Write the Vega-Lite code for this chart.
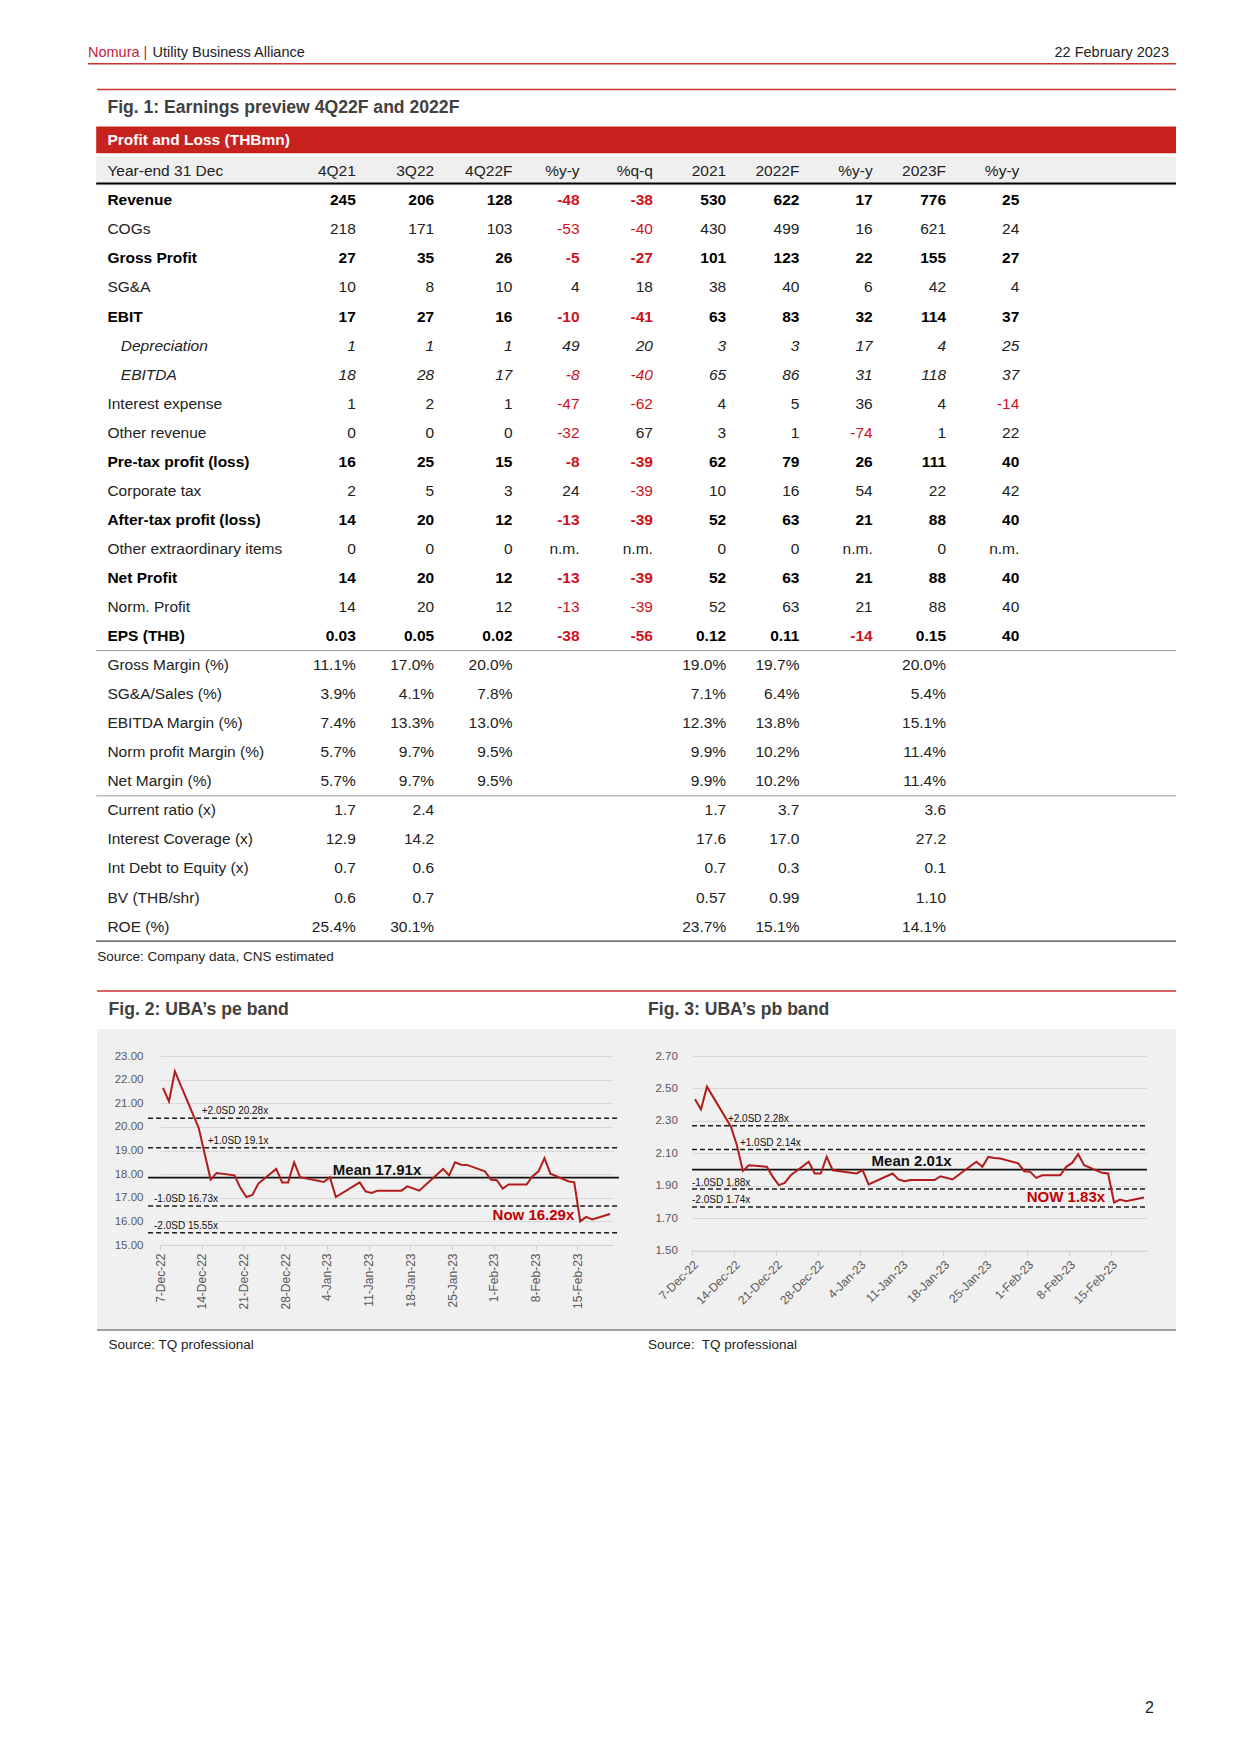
{
  "$schema": "https://vega.github.io/schema/vega-lite/v6.json",
  "padding": 0,
  "background": "#ffffff",
  "spacing": 0,
  "bounds": "flush",
  "config": {"view": {"stroke": null}, "font": "Liberation Sans"},
  "datasets": {
    "pl": [
      {"item":"Year-end 31 Dec","a":"4Q21","b":"3Q22","c":"4Q22F","d":"%y-y","e":"%q-q","f":"2021","g":"2022F","h":"%y-y","i":"2023F","j":"%y-y"},
      {"item":"Revenue","a":"245","b":"206","c":"128","d":"-48","e":"-38","f":"530","g":"622","h":"17","i":"776","j":"25"},
      {"item":"COGs","a":"218","b":"171","c":"103","d":"-53","e":"-40","f":"430","g":"499","h":"16","i":"621","j":"24"},
      {"item":"Gross Profit","a":"27","b":"35","c":"26","d":"-5","e":"-27","f":"101","g":"123","h":"22","i":"155","j":"27"},
      {"item":"SG&A","a":"10","b":"8","c":"10","d":"4","e":"18","f":"38","g":"40","h":"6","i":"42","j":"4"},
      {"item":"EBIT","a":"17","b":"27","c":"16","d":"-10","e":"-41","f":"63","g":"83","h":"32","i":"114","j":"37"},
      {"item":"Depreciation","a":"1","b":"1","c":"1","d":"49","e":"20","f":"3","g":"3","h":"17","i":"4","j":"25"},
      {"item":"EBITDA","a":"18","b":"28","c":"17","d":"-8","e":"-40","f":"65","g":"86","h":"31","i":"118","j":"37"},
      {"item":"Interest expense","a":"1","b":"2","c":"1","d":"-47","e":"-62","f":"4","g":"5","h":"36","i":"4","j":"-14"},
      {"item":"Other revenue","a":"0","b":"0","c":"0","d":"-32","e":"67","f":"3","g":"1","h":"-74","i":"1","j":"22"},
      {"item":"Pre-tax profit (loss)","a":"16","b":"25","c":"15","d":"-8","e":"-39","f":"62","g":"79","h":"26","i":"111","j":"40"},
      {"item":"Corporate tax","a":"2","b":"5","c":"3","d":"24","e":"-39","f":"10","g":"16","h":"54","i":"22","j":"42"},
      {"item":"After-tax profit (loss)","a":"14","b":"20","c":"12","d":"-13","e":"-39","f":"52","g":"63","h":"21","i":"88","j":"40"},
      {"item":"Other extraordinary items","a":"0","b":"0","c":"0","d":"n.m.","e":"n.m.","f":"0","g":"0","h":"n.m.","i":"0","j":"n.m."},
      {"item":"Net Profit","a":"14","b":"20","c":"12","d":"-13","e":"-39","f":"52","g":"63","h":"21","i":"88","j":"40"},
      {"item":"Norm. Profit","a":"14","b":"20","c":"12","d":"-13","e":"-39","f":"52","g":"63","h":"21","i":"88","j":"40"},
      {"item":"EPS (THB)","a":"0.03","b":"0.05","c":"0.02","d":"-38","e":"-56","f":"0.12","g":"0.11","h":"-14","i":"0.15","j":"40"},
      {"item":"Gross Margin (%)","a":"11.1%","b":"17.0%","c":"20.0%","f":"19.0%","g":"19.7%","i":"20.0%"},
      {"item":"SG&A/Sales (%)","a":"3.9%","b":"4.1%","c":"7.8%","f":"7.1%","g":"6.4%","i":"5.4%"},
      {"item":"EBITDA Margin (%)","a":"7.4%","b":"13.3%","c":"13.0%","f":"12.3%","g":"13.8%","i":"15.1%"},
      {"item":"Norm profit Margin (%)","a":"5.7%","b":"9.7%","c":"9.5%","f":"9.9%","g":"10.2%","i":"11.4%"},
      {"item":"Net Margin (%)","a":"5.7%","b":"9.7%","c":"9.5%","f":"9.9%","g":"10.2%","i":"11.4%"},
      {"item":"Current ratio (x)","a":"1.7","b":"2.4","f":"1.7","g":"3.7","i":"3.6"},
      {"item":"Interest Coverage (x)","a":"12.9","b":"14.2","f":"17.6","g":"17.0","i":"27.2"},
      {"item":"Int Debt to Equity (x)","a":"0.7","b":"0.6","f":"0.7","g":"0.3","i":"0.1"},
      {"item":"BV (THB/shr)","a":"0.6","b":"0.7","f":"0.57","g":"0.99","i":"1.10"},
      {"item":"ROE (%)","a":"25.4%","b":"30.1%","f":"23.7%","g":"15.1%","i":"14.1%"}
    ],
    "seps": [
      {"item":"Year-end 31 Dec","kind":"head"},
      {"item":"EPS (THB)","kind":"mid"},
      {"item":"Net Margin (%)","kind":"mid"},
      {"item":"ROE (%)","kind":"end"}
    ],
    "pe": [
      {"date":"2022-12-07","v":21.65},{"date":"2022-12-08","v":21.08},{"date":"2022-12-09","v":22.35},
      {"date":"2022-12-13","v":19.95},{"date":"2022-12-14","v":18.85},{"date":"2022-12-15","v":17.77},
      {"date":"2022-12-16","v":18.05},{"date":"2022-12-19","v":17.95},{"date":"2022-12-20","v":17.41},
      {"date":"2022-12-21","v":17.03},{"date":"2022-12-22","v":17.12},{"date":"2022-12-23","v":17.60},
      {"date":"2022-12-26","v":18.22},{"date":"2022-12-27","v":17.65},{"date":"2022-12-28","v":17.65},
      {"date":"2022-12-29","v":18.50},{"date":"2022-12-30","v":17.87},{"date":"2023-01-03","v":17.67},
      {"date":"2023-01-04","v":17.87},{"date":"2023-01-05","v":17.03},{"date":"2023-01-09","v":17.65},
      {"date":"2023-01-10","v":17.27},{"date":"2023-01-11","v":17.20},{"date":"2023-01-12","v":17.30},
      {"date":"2023-01-16","v":17.30},{"date":"2023-01-17","v":17.48},{"date":"2023-01-19","v":17.30},
      {"date":"2023-01-23","v":18.22},{"date":"2023-01-24","v":17.94},{"date":"2023-01-25","v":18.50},
      {"date":"2023-01-26","v":18.40},{"date":"2023-01-27","v":18.39},{"date":"2023-01-30","v":18.12},
      {"date":"2023-01-31","v":17.77},{"date":"2023-02-01","v":17.74},{"date":"2023-02-02","v":17.39},
      {"date":"2023-02-03","v":17.56},{"date":"2023-02-06","v":17.56},{"date":"2023-02-07","v":17.91},
      {"date":"2023-02-08","v":18.12},{"date":"2023-02-09","v":18.68},{"date":"2023-02-10","v":18.02},
      {"date":"2023-02-13","v":17.70},{"date":"2023-02-14","v":17.65},{"date":"2023-02-15","v":16.00},
      {"date":"2023-02-16","v":16.19},{"date":"2023-02-17","v":16.08},{"date":"2023-02-20","v":16.31}
    ],
    "pb": [
      {"date":"2022-12-07","v":2.433},{"date":"2022-12-08","v":2.371},{"date":"2022-12-09","v":2.511},
      {"date":"2022-12-13","v":2.264},{"date":"2022-12-14","v":2.15},{"date":"2022-12-15","v":1.992},
      {"date":"2022-12-16","v":2.027},{"date":"2022-12-19","v":2.017},{"date":"2022-12-20","v":1.955},
      {"date":"2022-12-21","v":1.904},{"date":"2022-12-22","v":1.918},{"date":"2022-12-23","v":1.965},
      {"date":"2022-12-26","v":2.048},{"date":"2022-12-27","v":1.976},{"date":"2022-12-28","v":1.976},
      {"date":"2022-12-29","v":2.078},{"date":"2022-12-30","v":1.996},{"date":"2023-01-03","v":1.976},
      {"date":"2023-01-04","v":1.996},{"date":"2023-01-05","v":1.908},{"date":"2023-01-09","v":1.976},
      {"date":"2023-01-10","v":1.939},{"date":"2023-01-11","v":1.928},{"date":"2023-01-12","v":1.935},
      {"date":"2023-01-16","v":1.935},{"date":"2023-01-17","v":1.959},{"date":"2023-01-19","v":1.939},
      {"date":"2023-01-23","v":2.048},{"date":"2023-01-24","v":2.017},{"date":"2023-01-25","v":2.078},
      {"date":"2023-01-26","v":2.072},{"date":"2023-01-27","v":2.068},{"date":"2023-01-30","v":2.038},
      {"date":"2023-01-31","v":1.990},{"date":"2023-02-01","v":1.986},{"date":"2023-02-02","v":1.949},
      {"date":"2023-02-03","v":1.965},{"date":"2023-02-06","v":1.965},{"date":"2023-02-07","v":2.017},
      {"date":"2023-02-08","v":2.041},{"date":"2023-02-09","v":2.095},{"date":"2023-02-10","v":2.027},
      {"date":"2023-02-13","v":1.980},{"date":"2023-02-14","v":1.976},{"date":"2023-02-15","v":1.797},
      {"date":"2023-02-16","v":1.815},{"date":"2023-02-17","v":1.805},{"date":"2023-02-20","v":1.828}
    ],
    "peBands": [
      {"band":"+2.0SD","v":20.36,"label":"+2.0SD 20.28x","at":"2022-12-14","from":"2022-12-05","to":"2023-02-22"},
      {"band":"+1.0SD","v":19.12,"label":"+1.0SD 19.1x","at":"2022-12-15","from":"2022-12-05","to":"2023-02-22"},
      {"band":"Mean","v":17.85,"label":"Mean 17.91x","at":"2023-01-05","from":"2022-12-05","to":"2023-02-22"},
      {"band":"-1.0SD","v":16.65,"label":"-1.0SD 16.73x","at":"2022-12-06","from":"2022-12-05","to":"2023-02-22"},
      {"band":"-2.0SD","v":15.52,"label":"-2.0SD 15.55x","at":"2022-12-06","from":"2022-12-05","to":"2023-02-22"}
    ],
    "pbBands": [
      {"band":"+2.0SD","v":2.27,"label":"+2.0SD 2.28x","at":"2022-12-13","from":"2022-12-07","to":"2023-02-21"},
      {"band":"+1.0SD","v":2.123,"label":"+1.0SD 2.14x","at":"2022-12-15","from":"2022-12-07","to":"2023-02-21"},
      {"band":"Mean","v":2.0,"label":"Mean 2.01x","at":"2023-01-06","from":"2022-12-07","to":"2023-02-21"},
      {"band":"-1.0SD","v":1.88,"label":"-1.0SD 1.88x","at":"2022-12-07","from":"2022-12-07","to":"2023-02-21"},
      {"band":"-2.0SD","v":1.77,"label":"-2.0SD 1.74x","at":"2022-12-07","from":"2022-12-07","to":"2023-02-21"}
    ],
    "peNow": [{"label":"Now 16.29x","at":"2023-02-14","v":16.29}],
    "pbNow": [{"label":"NOW 1.83x","at":"2023-02-14","v":1.83}]
  },
  "vconcat": [
    {
      "width": 1242,
      "height": 1056,
      "resolve": {"scale": {"x": "independent"}},
      "layer": [
        {"data":{"values":[{"t":"Nomura |"}]},"mark":{"type":"text","align":"left","baseline":"middle","fontSize":14.5,"color":"#c41e3a"},"encoding":{"text":{"field":"t"},"x":{"value":88},"y":{"value":52.6}}},
        {"data":{"values":[{"t":"Utility Business Alliance"}]},"mark":{"type":"text","align":"left","baseline":"middle","fontSize":14.5,"color":"#222222"},"encoding":{"text":{"field":"t"},"x":{"value":152.5},"y":{"value":52.6}}},
        {"data":{"values":[{"t":"22 February 2023"}]},"mark":{"type":"text","align":"right","baseline":"middle","fontSize":14.5,"color":"#222222"},"encoding":{"text":{"field":"t"},"x":{"value":1169},"y":{"value":52.6}}},
        {"data":{"values":[{}]},"mark":{"type":"rule","color":"#c8322f","strokeWidth":1.6},"encoding":{"x":{"value":88},"x2":{"value":1176},"y":{"value":63.8}}},
        {"data":{"values":[{}]},"mark":{"type":"rule","color":"#c8322f","strokeWidth":1.6},"encoding":{"x":{"value":97},"x2":{"value":1176},"y":{"value":89.5}}},
        {"data":{"values":[{"t":"Fig. 1: Earnings preview 4Q22F and 2022F"}]},"mark":{"type":"text","align":"left","baseline":"middle","fontSize":17.6,"fontWeight":"bold","color":"#404040"},"encoding":{"text":{"field":"t"},"x":{"value":107.4},"y":{"value":108.2}}},
        {"data":{"values":[{}]},"mark":{"type":"rect","color":"#c8221f"},"encoding":{"x":{"value":96.2},"x2":{"value":1176},"y":{"value":126.4},"y2":{"value":153.3}}},
        {"data":{"values":[{"t":"Profit and Loss (THBmn)"}]},"mark":{"type":"text","align":"left","baseline":"middle","fontSize":15.5,"fontWeight":"bold","color":"#ffffff"},"encoding":{"text":{"field":"t"},"x":{"value":107.4},"y":{"value":139.9}}},
        {"data":{"name":"seps"},"transform":[{"filter":"datum.kind === 'head'"}],"mark":{"type":"rect","color":"#efefef"},
         "encoding":{"x":{"value":96.2},"x2":{"value":1176},
          "y":{"field":"item","type":"nominal","scale":{"type":"band","domain":["Year-end 31 Dec","Revenue","COGs","Gross Profit","SG&A","EBIT","Depreciation","EBITDA","Interest expense","Other revenue","Pre-tax profit (loss)","Corporate tax","After-tax profit (loss)","Other extraordinary items","Net Profit","Norm. Profit","EPS (THB)","Gross Margin (%)","SG&A/Sales (%)","EBITDA Margin (%)","Norm profit Margin (%)","Net Margin (%)","Current ratio (x)","Interest Coverage (x)","Int Debt to Equity (x)","BV (THB/shr)","ROE (%)"],"range":[156.73,941.08],"paddingInner":0,"paddingOuter":0},"axis":null}}},
        {"data":{"name":"seps"},"transform":[{"filter":"datum.kind === 'head'"}],"mark":{"type":"rule","color":"#000000","strokeWidth":2},
         "encoding":{"x":{"value":96.2},"x2":{"value":1176},
          "y":{"field":"item","type":"nominal","bandPosition":0.92,"scale":{"type":"band","domain":["Year-end 31 Dec","Revenue","COGs","Gross Profit","SG&A","EBIT","Depreciation","EBITDA","Interest expense","Other revenue","Pre-tax profit (loss)","Corporate tax","After-tax profit (loss)","Other extraordinary items","Net Profit","Norm. Profit","EPS (THB)","Gross Margin (%)","SG&A/Sales (%)","EBITDA Margin (%)","Norm profit Margin (%)","Net Margin (%)","Current ratio (x)","Interest Coverage (x)","Int Debt to Equity (x)","BV (THB/shr)","ROE (%)"],"range":[156.73,941.08],"paddingInner":0,"paddingOuter":0},"axis":null}}},
        {"data":{"name":"seps"},"transform":[{"filter":"datum.kind === 'mid'"}],"mark":{"type":"rule","color":"#9a9a9a","strokeWidth":1},
         "encoding":{"x":{"value":96.2},"x2":{"value":1176},
          "y":{"field":"item","type":"nominal","bandPosition":1,"scale":{"type":"band","domain":["Year-end 31 Dec","Revenue","COGs","Gross Profit","SG&A","EBIT","Depreciation","EBITDA","Interest expense","Other revenue","Pre-tax profit (loss)","Corporate tax","After-tax profit (loss)","Other extraordinary items","Net Profit","Norm. Profit","EPS (THB)","Gross Margin (%)","SG&A/Sales (%)","EBITDA Margin (%)","Norm profit Margin (%)","Net Margin (%)","Current ratio (x)","Interest Coverage (x)","Int Debt to Equity (x)","BV (THB/shr)","ROE (%)"],"range":[156.73,941.08],"paddingInner":0,"paddingOuter":0},"axis":null}}},
        {"data":{"name":"seps"},"transform":[{"filter":"datum.kind === 'end'"}],"mark":{"type":"rule","color":"#404040","strokeWidth":1.3},
         "encoding":{"x":{"value":96.2},"x2":{"value":1176},
          "y":{"field":"item","type":"nominal","bandPosition":1,"scale":{"type":"band","domain":["Year-end 31 Dec","Revenue","COGs","Gross Profit","SG&A","EBIT","Depreciation","EBITDA","Interest expense","Other revenue","Pre-tax profit (loss)","Corporate tax","After-tax profit (loss)","Other extraordinary items","Net Profit","Norm. Profit","EPS (THB)","Gross Margin (%)","SG&A/Sales (%)","EBITDA Margin (%)","Norm profit Margin (%)","Net Margin (%)","Current ratio (x)","Interest Coverage (x)","Int Debt to Equity (x)","BV (THB/shr)","ROE (%)"],"range":[156.73,941.08],"paddingInner":0,"paddingOuter":0},"axis":null}}},
        {"data":{"name":"pl"},"transform":[{"filter":{"not":{"field":"item","oneOf":["Revenue","Gross Profit","EBIT","Pre-tax profit (loss)","After-tax profit (loss)","Net Profit","EPS (THB)","Depreciation","EBITDA"]}}}],
         "mark":{"type":"text","align":"left","baseline":"middle","fontSize":15.5,"color":"#222222"},
         "encoding":{"text":{"field":"item"},"x":{"value":107.4},
          "y":{"field":"item","type":"nominal","scale":{"type":"band","domain":["Year-end 31 Dec","Revenue","COGs","Gross Profit","SG&A","EBIT","Depreciation","EBITDA","Interest expense","Other revenue","Pre-tax profit (loss)","Corporate tax","After-tax profit (loss)","Other extraordinary items","Net Profit","Norm. Profit","EPS (THB)","Gross Margin (%)","SG&A/Sales (%)","EBITDA Margin (%)","Norm profit Margin (%)","Net Margin (%)","Current ratio (x)","Interest Coverage (x)","Int Debt to Equity (x)","BV (THB/shr)","ROE (%)"],"range":[156.73,941.08],"paddingInner":0,"paddingOuter":0},"axis":null}}},
        {"data":{"name":"pl"},"transform":[{"filter":{"field":"item","oneOf":["Revenue","Gross Profit","EBIT","Pre-tax profit (loss)","After-tax profit (loss)","Net Profit","EPS (THB)"]}}],
         "mark":{"type":"text","align":"left","baseline":"middle","fontSize":15.5,"fontWeight":"bold","color":"#000000"},
         "encoding":{"text":{"field":"item"},"x":{"value":107.4},
          "y":{"field":"item","type":"nominal","scale":{"type":"band","domain":["Year-end 31 Dec","Revenue","COGs","Gross Profit","SG&A","EBIT","Depreciation","EBITDA","Interest expense","Other revenue","Pre-tax profit (loss)","Corporate tax","After-tax profit (loss)","Other extraordinary items","Net Profit","Norm. Profit","EPS (THB)","Gross Margin (%)","SG&A/Sales (%)","EBITDA Margin (%)","Norm profit Margin (%)","Net Margin (%)","Current ratio (x)","Interest Coverage (x)","Int Debt to Equity (x)","BV (THB/shr)","ROE (%)"],"range":[156.73,941.08],"paddingInner":0,"paddingOuter":0},"axis":null}}},
        {"data":{"name":"pl"},"transform":[{"filter":{"field":"item","oneOf":["Depreciation","EBITDA"]}}],
         "mark":{"type":"text","align":"left","baseline":"middle","fontSize":15.5,"fontStyle":"italic","color":"#222222"},
         "encoding":{"text":{"field":"item"},"x":{"value":120.8},
          "y":{"field":"item","type":"nominal","scale":{"type":"band","domain":["Year-end 31 Dec","Revenue","COGs","Gross Profit","SG&A","EBIT","Depreciation","EBITDA","Interest expense","Other revenue","Pre-tax profit (loss)","Corporate tax","After-tax profit (loss)","Other extraordinary items","Net Profit","Norm. Profit","EPS (THB)","Gross Margin (%)","SG&A/Sales (%)","EBITDA Margin (%)","Norm profit Margin (%)","Net Margin (%)","Current ratio (x)","Interest Coverage (x)","Int Debt to Equity (x)","BV (THB/shr)","ROE (%)"],"range":[156.73,941.08],"paddingInner":0,"paddingOuter":0},"axis":null}}},
        {"data":{"name":"pl"},"transform":[{"fold":["a","b","c"],"as":["col","v"]},{"filter":"isValid(datum.v) && datum.v !== ''"},{"filter":{"not":{"field":"item","oneOf":["Revenue","Gross Profit","EBIT","Pre-tax profit (loss)","After-tax profit (loss)","Net Profit","EPS (THB)","Depreciation","EBITDA"]}}}],
         "mark":{"type":"text","align":"right","baseline":"middle","fontSize":15.5},
         "encoding":{"text":{"field":"v"},
          "x":{"field":"col","type":"nominal","scale":{"type":"point","domain":["a","b","c"],"range":[355.8,512.5],"padding":0},"axis":null},
          "y":{"field":"item","type":"nominal","scale":{"type":"band","domain":["Year-end 31 Dec","Revenue","COGs","Gross Profit","SG&A","EBIT","Depreciation","EBITDA","Interest expense","Other revenue","Pre-tax profit (loss)","Corporate tax","After-tax profit (loss)","Other extraordinary items","Net Profit","Norm. Profit","EPS (THB)","Gross Margin (%)","SG&A/Sales (%)","EBITDA Margin (%)","Norm profit Margin (%)","Net Margin (%)","Current ratio (x)","Interest Coverage (x)","Int Debt to Equity (x)","BV (THB/shr)","ROE (%)"],"range":[156.73,941.08],"paddingInner":0,"paddingOuter":0},"axis":null},
          "color":{"condition":{"test":"indexof(datum.v,'-') === 0","value":"#d0111b"},"value":"#222222"}}},
        {"data":{"name":"pl"},"transform":[{"fold":["d","e","f","g","h","i","j"],"as":["col","v"]},{"filter":"isValid(datum.v) && datum.v !== ''"},{"filter":{"not":{"field":"item","oneOf":["Revenue","Gross Profit","EBIT","Pre-tax profit (loss)","After-tax profit (loss)","Net Profit","EPS (THB)","Depreciation","EBITDA"]}}}],
         "mark":{"type":"text","align":"right","baseline":"middle","fontSize":15.5},
         "encoding":{"text":{"field":"v"},
          "x":{"field":"col","type":"nominal","scale":{"type":"point","domain":["d","e","f","g","h","i","j"],"range":[579.6,1019.3],"padding":0},"axis":null},
          "y":{"field":"item","type":"nominal","scale":{"type":"band","domain":["Year-end 31 Dec","Revenue","COGs","Gross Profit","SG&A","EBIT","Depreciation","EBITDA","Interest expense","Other revenue","Pre-tax profit (loss)","Corporate tax","After-tax profit (loss)","Other extraordinary items","Net Profit","Norm. Profit","EPS (THB)","Gross Margin (%)","SG&A/Sales (%)","EBITDA Margin (%)","Norm profit Margin (%)","Net Margin (%)","Current ratio (x)","Interest Coverage (x)","Int Debt to Equity (x)","BV (THB/shr)","ROE (%)"],"range":[156.73,941.08],"paddingInner":0,"paddingOuter":0},"axis":null},
          "color":{"condition":{"test":"indexof(datum.v,'-') === 0","value":"#d0111b"},"value":"#222222"}}},
        {"data":{"name":"pl"},"transform":[{"fold":["a","b","c"],"as":["col","v"]},{"filter":"isValid(datum.v) && datum.v !== ''"},{"filter":{"field":"item","oneOf":["Revenue","Gross Profit","EBIT","Pre-tax profit (loss)","After-tax profit (loss)","Net Profit","EPS (THB)"]}}],
         "mark":{"type":"text","align":"right","baseline":"middle","fontSize":15.5,"fontWeight":"bold"},
         "encoding":{"text":{"field":"v"},
          "x":{"field":"col","type":"nominal","scale":{"type":"point","domain":["a","b","c"],"range":[355.8,512.5],"padding":0},"axis":null},
          "y":{"field":"item","type":"nominal","scale":{"type":"band","domain":["Year-end 31 Dec","Revenue","COGs","Gross Profit","SG&A","EBIT","Depreciation","EBITDA","Interest expense","Other revenue","Pre-tax profit (loss)","Corporate tax","After-tax profit (loss)","Other extraordinary items","Net Profit","Norm. Profit","EPS (THB)","Gross Margin (%)","SG&A/Sales (%)","EBITDA Margin (%)","Norm profit Margin (%)","Net Margin (%)","Current ratio (x)","Interest Coverage (x)","Int Debt to Equity (x)","BV (THB/shr)","ROE (%)"],"range":[156.73,941.08],"paddingInner":0,"paddingOuter":0},"axis":null},
          "color":{"condition":{"test":"indexof(datum.v,'-') === 0","value":"#d0111b"},"value":"#000000"}}},
        {"data":{"name":"pl"},"transform":[{"fold":["d","e","f","g","h","i","j"],"as":["col","v"]},{"filter":"isValid(datum.v) && datum.v !== ''"},{"filter":{"field":"item","oneOf":["Revenue","Gross Profit","EBIT","Pre-tax profit (loss)","After-tax profit (loss)","Net Profit","EPS (THB)"]}}],
         "mark":{"type":"text","align":"right","baseline":"middle","fontSize":15.5,"fontWeight":"bold"},
         "encoding":{"text":{"field":"v"},
          "x":{"field":"col","type":"nominal","scale":{"type":"point","domain":["d","e","f","g","h","i","j"],"range":[579.6,1019.3],"padding":0},"axis":null},
          "y":{"field":"item","type":"nominal","scale":{"type":"band","domain":["Year-end 31 Dec","Revenue","COGs","Gross Profit","SG&A","EBIT","Depreciation","EBITDA","Interest expense","Other revenue","Pre-tax profit (loss)","Corporate tax","After-tax profit (loss)","Other extraordinary items","Net Profit","Norm. Profit","EPS (THB)","Gross Margin (%)","SG&A/Sales (%)","EBITDA Margin (%)","Norm profit Margin (%)","Net Margin (%)","Current ratio (x)","Interest Coverage (x)","Int Debt to Equity (x)","BV (THB/shr)","ROE (%)"],"range":[156.73,941.08],"paddingInner":0,"paddingOuter":0},"axis":null},
          "color":{"condition":{"test":"indexof(datum.v,'-') === 0","value":"#d0111b"},"value":"#000000"}}},
        {"data":{"name":"pl"},"transform":[{"fold":["a","b","c"],"as":["col","v"]},{"filter":"isValid(datum.v) && datum.v !== ''"},{"filter":{"field":"item","oneOf":["Depreciation","EBITDA"]}}],
         "mark":{"type":"text","align":"right","baseline":"middle","fontSize":15.5,"fontStyle":"italic"},
         "encoding":{"text":{"field":"v"},
          "x":{"field":"col","type":"nominal","scale":{"type":"point","domain":["a","b","c"],"range":[355.8,512.5],"padding":0},"axis":null},
          "y":{"field":"item","type":"nominal","scale":{"type":"band","domain":["Year-end 31 Dec","Revenue","COGs","Gross Profit","SG&A","EBIT","Depreciation","EBITDA","Interest expense","Other revenue","Pre-tax profit (loss)","Corporate tax","After-tax profit (loss)","Other extraordinary items","Net Profit","Norm. Profit","EPS (THB)","Gross Margin (%)","SG&A/Sales (%)","EBITDA Margin (%)","Norm profit Margin (%)","Net Margin (%)","Current ratio (x)","Interest Coverage (x)","Int Debt to Equity (x)","BV (THB/shr)","ROE (%)"],"range":[156.73,941.08],"paddingInner":0,"paddingOuter":0},"axis":null},
          "color":{"condition":{"test":"indexof(datum.v,'-') === 0","value":"#d0111b"},"value":"#222222"}}},
        {"data":{"name":"pl"},"transform":[{"fold":["d","e","f","g","h","i","j"],"as":["col","v"]},{"filter":"isValid(datum.v) && datum.v !== ''"},{"filter":{"field":"item","oneOf":["Depreciation","EBITDA"]}}],
         "mark":{"type":"text","align":"right","baseline":"middle","fontSize":15.5,"fontStyle":"italic"},
         "encoding":{"text":{"field":"v"},
          "x":{"field":"col","type":"nominal","scale":{"type":"point","domain":["d","e","f","g","h","i","j"],"range":[579.6,1019.3],"padding":0},"axis":null},
          "y":{"field":"item","type":"nominal","scale":{"type":"band","domain":["Year-end 31 Dec","Revenue","COGs","Gross Profit","SG&A","EBIT","Depreciation","EBITDA","Interest expense","Other revenue","Pre-tax profit (loss)","Corporate tax","After-tax profit (loss)","Other extraordinary items","Net Profit","Norm. Profit","EPS (THB)","Gross Margin (%)","SG&A/Sales (%)","EBITDA Margin (%)","Norm profit Margin (%)","Net Margin (%)","Current ratio (x)","Interest Coverage (x)","Int Debt to Equity (x)","BV (THB/shr)","ROE (%)"],"range":[156.73,941.08],"paddingInner":0,"paddingOuter":0},"axis":null},
          "color":{"condition":{"test":"indexof(datum.v,'-') === 0","value":"#d0111b"},"value":"#222222"}}},
        {"data":{"values":[{"t":"Source: Company data, CNS estimated"}]},"mark":{"type":"text","align":"left","baseline":"middle","fontSize":13.5,"color":"#222222"},"encoding":{"text":{"field":"t"},"x":{"value":97.3},"y":{"value":956.7}}},
        {"data":{"values":[{}]},"mark":{"type":"rule","color":"#c8322f","strokeWidth":1.6},"encoding":{"x":{"value":97},"x2":{"value":1176},"y":{"value":991}}},
        {"data":{"values":[{"t":"Fig. 2: UBA’s pe band"}]},"mark":{"type":"text","align":"left","baseline":"middle","fontSize":17.6,"fontWeight":"bold","color":"#404040"},"encoding":{"text":{"field":"t"},"x":{"value":108.5},"y":{"value":1010}}},
        {"data":{"values":[{"t":"Fig. 3: UBA’s pb band"}]},"mark":{"type":"text","align":"left","baseline":"middle","fontSize":17.6,"fontWeight":"bold","color":"#404040"},"encoding":{"text":{"field":"t"},"x":{"value":648},"y":{"value":1010}}},
        {"data":{"values":[{}]},"mark":{"type":"rect","color":"#f0f0f0"},"encoding":{"x":{"value":97},"x2":{"value":1176},"y":{"value":1029},"y2":{"value":1329}}},
        {"data":{"values":[{}]},"mark":{"type":"rule","color":"#808080","strokeWidth":1.3},"encoding":{"x":{"value":97},"x2":{"value":1176},"y":{"value":1330}}},
        {"data":{"values":[{"t":"Source: TQ professional"}]},"mark":{"type":"text","align":"left","baseline":"middle","fontSize":13.5,"color":"#222222"},"encoding":{"text":{"field":"t"},"x":{"value":108.5},"y":{"value":1345}}},
        {"data":{"values":[{"t":"Source:\u00a0 TQ professional"}]},"mark":{"type":"text","align":"left","baseline":"middle","fontSize":13.5,"color":"#222222"},"encoding":{"text":{"field":"t"},"x":{"value":648},"y":{"value":1345}}},
        {"data":{"values":[{"t":"2"}]},"mark":{"type":"text","align":"left","baseline":"middle","fontSize":16,"color":"#222222"},"encoding":{"text":{"field":"t"},"x":{"value":1145},"y":{"value":1707.5}}}
      ]
    },
    {
      "spacing": 0,
      "bounds": "flush",
      "hconcat": [
        {"width": 160, "height": 1, "data": {"values": []}, "mark": "point", "encoding": {}},
        {
          "width": 453,
          "height": 189,
          "layer": [
            {"data":{"name":"peBands"},"transform":[{"filter":"datum.band !== 'Mean'"}],
             "mark":{"type":"rule","color":"#1a1a1a","strokeWidth":1.5,"strokeDash":[5,3]},
             "encoding":{
              "x":{"field":"from","type":"temporal","title":null,"scale":{"type":"utc","domain":[{"year":2022,"month":12,"date":7,"utc":true},{"year":2023,"month":2,"date":21,"utc":true}]},
                   "axis":{"title":null,"values":[{"year":2022,"month":12,"date":7,"utc":true},{"year":2022,"month":12,"date":14,"utc":true},{"year":2022,"month":12,"date":21,"utc":true},{"year":2022,"month":12,"date":28,"utc":true},{"year":2023,"month":1,"date":4,"utc":true},{"year":2023,"month":1,"date":11,"utc":true},{"year":2023,"month":1,"date":18,"utc":true},{"year":2023,"month":1,"date":25,"utc":true},{"year":2023,"month":2,"date":1,"utc":true},{"year":2023,"month":2,"date":8,"utc":true},{"year":2023,"month":2,"date":15,"utc":true}],"labelExpr":"utcFormat(datum.value, '%-d-%b-%y')","labelOverlap":false,"labelAngle":-90,"grid":false,"domain":true,"domainColor":"#d0d0d0","ticks":true,"tickColor":"#d0d0d0","tickSize":5,"labelColor":"#595959","labelFontSize":12,"labelPadding":3}},
              "x2":{"field":"to"},
              "y":{"field":"v","type":"quantitative","title":null,"scale":{"domain":[15,23],"zero":false,"nice":false},
                   "axis":{"title":null,"values":[15,16,17,18,19,20,21,22,23],"format":".2f","grid":true,"gridColor":"#d9d9d9","domain":false,"ticks":false,"labelPadding":17,"labelColor":"#595959","labelFontSize":11.5}}}},
            {"data":{"name":"peBands"},"transform":[{"filter":"datum.band === 'Mean'"}],
             "mark":{"type":"rule","color":"#111111","strokeWidth":1.8},
             "encoding":{
              "x":{"field":"from","type":"temporal","title":null,"scale":{"type":"utc","domain":[{"year":2022,"month":12,"date":7,"utc":true},{"year":2023,"month":2,"date":21,"utc":true}]},
                   "axis":{"title":null,"values":[{"year":2022,"month":12,"date":7,"utc":true},{"year":2022,"month":12,"date":14,"utc":true},{"year":2022,"month":12,"date":21,"utc":true},{"year":2022,"month":12,"date":28,"utc":true},{"year":2023,"month":1,"date":4,"utc":true},{"year":2023,"month":1,"date":11,"utc":true},{"year":2023,"month":1,"date":18,"utc":true},{"year":2023,"month":1,"date":25,"utc":true},{"year":2023,"month":2,"date":1,"utc":true},{"year":2023,"month":2,"date":8,"utc":true},{"year":2023,"month":2,"date":15,"utc":true}],"labelExpr":"utcFormat(datum.value, '%-d-%b-%y')","labelOverlap":false,"labelAngle":-90,"grid":false,"domain":true,"domainColor":"#d0d0d0","ticks":true,"tickColor":"#d0d0d0","tickSize":5,"labelColor":"#595959","labelFontSize":12,"labelPadding":3}},
              "x2":{"field":"to"},
              "y":{"field":"v","type":"quantitative","title":null,"scale":{"domain":[15,23],"zero":false,"nice":false},
                   "axis":{"title":null,"values":[15,16,17,18,19,20,21,22,23],"format":".2f","grid":true,"gridColor":"#d9d9d9","domain":false,"ticks":false,"labelPadding":17,"labelColor":"#595959","labelFontSize":11.5}}}},
            {"data":{"name":"pe"},
             "mark":{"type":"line","color":"#b31b1b","strokeWidth":2},
             "encoding":{
              "x":{"field":"date","type":"temporal","title":null,"timeUnit":"utcyearmonthdate","bandPosition":0.5,"scale":{"type":"utc","domain":[{"year":2022,"month":12,"date":7,"utc":true},{"year":2023,"month":2,"date":21,"utc":true}]},
                   "axis":{"title":null,"values":[{"year":2022,"month":12,"date":7,"utc":true},{"year":2022,"month":12,"date":14,"utc":true},{"year":2022,"month":12,"date":21,"utc":true},{"year":2022,"month":12,"date":28,"utc":true},{"year":2023,"month":1,"date":4,"utc":true},{"year":2023,"month":1,"date":11,"utc":true},{"year":2023,"month":1,"date":18,"utc":true},{"year":2023,"month":1,"date":25,"utc":true},{"year":2023,"month":2,"date":1,"utc":true},{"year":2023,"month":2,"date":8,"utc":true},{"year":2023,"month":2,"date":15,"utc":true}],"labelExpr":"utcFormat(datum.value, '%-d-%b-%y')","labelOverlap":false,"labelAngle":-90,"grid":false,"domain":true,"domainColor":"#d0d0d0","ticks":true,"tickColor":"#d0d0d0","tickSize":5,"labelColor":"#595959","labelFontSize":12,"labelPadding":3}},
              "y":{"field":"v","type":"quantitative","title":null,"scale":{"domain":[15,23],"zero":false,"nice":false},
                   "axis":{"title":null,"values":[15,16,17,18,19,20,21,22,23],"format":".2f","grid":true,"gridColor":"#d9d9d9","domain":false,"ticks":false,"labelPadding":17,"labelColor":"#595959","labelFontSize":11.5}}}},
            {"data":{"name":"peBands"},"transform":[{"filter":"datum.band !== 'Mean'"}],
             "mark":{"type":"text","align":"left","baseline":"alphabetic","dy":-4,"fontSize":10,"color":"#111111"},
             "encoding":{"text":{"field":"label"},
              "x":{"field":"at","type":"temporal","title":null,"scale":{"type":"utc","domain":[{"year":2022,"month":12,"date":7,"utc":true},{"year":2023,"month":2,"date":21,"utc":true}]},
                   "axis":{"title":null,"values":[{"year":2022,"month":12,"date":7,"utc":true},{"year":2022,"month":12,"date":14,"utc":true},{"year":2022,"month":12,"date":21,"utc":true},{"year":2022,"month":12,"date":28,"utc":true},{"year":2023,"month":1,"date":4,"utc":true},{"year":2023,"month":1,"date":11,"utc":true},{"year":2023,"month":1,"date":18,"utc":true},{"year":2023,"month":1,"date":25,"utc":true},{"year":2023,"month":2,"date":1,"utc":true},{"year":2023,"month":2,"date":8,"utc":true},{"year":2023,"month":2,"date":15,"utc":true}],"labelExpr":"utcFormat(datum.value, '%-d-%b-%y')","labelOverlap":false,"labelAngle":-90,"grid":false,"domain":true,"domainColor":"#d0d0d0","ticks":true,"tickColor":"#d0d0d0","tickSize":5,"labelColor":"#595959","labelFontSize":12,"labelPadding":3}},
              "y":{"field":"v","type":"quantitative","title":null,"scale":{"domain":[15,23],"zero":false,"nice":false},
                   "axis":{"title":null,"values":[15,16,17,18,19,20,21,22,23],"format":".2f","grid":true,"gridColor":"#d9d9d9","domain":false,"ticks":false,"labelPadding":17,"labelColor":"#595959","labelFontSize":11.5}}}},
            {"data":{"name":"peBands"},"transform":[{"filter":"datum.band === 'Mean'"}],
             "mark":{"type":"text","align":"left","baseline":"alphabetic","dy":-2.5,"fontSize":15,"fontWeight":"bold","color":"#111111"},
             "encoding":{"text":{"field":"label"},
              "x":{"field":"at","type":"temporal","title":null,"scale":{"type":"utc","domain":[{"year":2022,"month":12,"date":7,"utc":true},{"year":2023,"month":2,"date":21,"utc":true}]},
                   "axis":{"title":null,"values":[{"year":2022,"month":12,"date":7,"utc":true},{"year":2022,"month":12,"date":14,"utc":true},{"year":2022,"month":12,"date":21,"utc":true},{"year":2022,"month":12,"date":28,"utc":true},{"year":2023,"month":1,"date":4,"utc":true},{"year":2023,"month":1,"date":11,"utc":true},{"year":2023,"month":1,"date":18,"utc":true},{"year":2023,"month":1,"date":25,"utc":true},{"year":2023,"month":2,"date":1,"utc":true},{"year":2023,"month":2,"date":8,"utc":true},{"year":2023,"month":2,"date":15,"utc":true}],"labelExpr":"utcFormat(datum.value, '%-d-%b-%y')","labelOverlap":false,"labelAngle":-90,"grid":false,"domain":true,"domainColor":"#d0d0d0","ticks":true,"tickColor":"#d0d0d0","tickSize":5,"labelColor":"#595959","labelFontSize":12,"labelPadding":3}},
              "y":{"field":"v","type":"quantitative","title":null,"scale":{"domain":[15,23],"zero":false,"nice":false},
                   "axis":{"title":null,"values":[15,16,17,18,19,20,21,22,23],"format":".2f","grid":true,"gridColor":"#d9d9d9","domain":false,"ticks":false,"labelPadding":17,"labelColor":"#595959","labelFontSize":11.5}}}},
            {"data":{"name":"peNow"},
             "mark":{"type":"text","align":"right","baseline":"middle","dx":3,"fontSize":15,"fontWeight":"bold","color":"#c00000"},
             "encoding":{"text":{"field":"label"},
              "x":{"field":"at","type":"temporal","title":null,"scale":{"type":"utc","domain":[{"year":2022,"month":12,"date":7,"utc":true},{"year":2023,"month":2,"date":21,"utc":true}]},
                   "axis":{"title":null,"values":[{"year":2022,"month":12,"date":7,"utc":true},{"year":2022,"month":12,"date":14,"utc":true},{"year":2022,"month":12,"date":21,"utc":true},{"year":2022,"month":12,"date":28,"utc":true},{"year":2023,"month":1,"date":4,"utc":true},{"year":2023,"month":1,"date":11,"utc":true},{"year":2023,"month":1,"date":18,"utc":true},{"year":2023,"month":1,"date":25,"utc":true},{"year":2023,"month":2,"date":1,"utc":true},{"year":2023,"month":2,"date":8,"utc":true},{"year":2023,"month":2,"date":15,"utc":true}],"labelExpr":"utcFormat(datum.value, '%-d-%b-%y')","labelOverlap":false,"labelAngle":-90,"grid":false,"domain":true,"domainColor":"#d0d0d0","ticks":true,"tickColor":"#d0d0d0","tickSize":5,"labelColor":"#595959","labelFontSize":12,"labelPadding":3}},
              "y":{"field":"v","type":"quantitative","title":null,"scale":{"domain":[15,23],"zero":false,"nice":false},
                   "axis":{"title":null,"values":[15,16,17,18,19,20,21,22,23],"format":".2f","grid":true,"gridColor":"#d9d9d9","domain":false,"ticks":false,"labelPadding":17,"labelColor":"#595959","labelFontSize":11.5}}}}
          ]
        },
        {"width": 78.7, "height": 1, "data": {"values": []}, "mark": "point", "encoding": {}},
        {
          "width": 455,
          "height": 194.7,
          "layer": [
            {"data":{"name":"pbBands"},"transform":[{"filter":"datum.band !== 'Mean'"}],
             "mark":{"type":"rule","color":"#1a1a1a","strokeWidth":1.5,"strokeDash":[5,3]},
             "encoding":{
              "x":{"field":"from","type":"temporal","title":null,"scale":{"type":"utc","domain":[{"year":2022,"month":12,"date":7,"utc":true},{"year":2023,"month":2,"date":21,"utc":true}]},
                   "axis":{"title":null,"values":[{"year":2022,"month":12,"date":7,"utc":true},{"year":2022,"month":12,"date":14,"utc":true},{"year":2022,"month":12,"date":21,"utc":true},{"year":2022,"month":12,"date":28,"utc":true},{"year":2023,"month":1,"date":4,"utc":true},{"year":2023,"month":1,"date":11,"utc":true},{"year":2023,"month":1,"date":18,"utc":true},{"year":2023,"month":1,"date":25,"utc":true},{"year":2023,"month":2,"date":1,"utc":true},{"year":2023,"month":2,"date":8,"utc":true},{"year":2023,"month":2,"date":15,"utc":true}],"labelExpr":"utcFormat(datum.value, '%-d-%b-%y')","labelOverlap":false,"labelAngle":-45,"grid":false,"domain":true,"domainColor":"#d0d0d0","ticks":true,"tickColor":"#d0d0d0","tickSize":5,"labelColor":"#595959","labelFontSize":12,"labelPadding":3}},
              "x2":{"field":"to"},
              "y":{"field":"v","type":"quantitative","title":null,"scale":{"domain":[1.5,2.7],"zero":false,"nice":false},
                   "axis":{"title":null,"values":[1.5,1.7,1.9,2.1,2.3,2.5,2.7],"format":".2f","grid":true,"gridColor":"#d9d9d9","domain":false,"ticks":false,"labelPadding":14.7,"labelColor":"#595959","labelFontSize":11.5}}}},
            {"data":{"name":"pbBands"},"transform":[{"filter":"datum.band === 'Mean'"}],
             "mark":{"type":"rule","color":"#111111","strokeWidth":1.8},
             "encoding":{
              "x":{"field":"from","type":"temporal","title":null,"scale":{"type":"utc","domain":[{"year":2022,"month":12,"date":7,"utc":true},{"year":2023,"month":2,"date":21,"utc":true}]},
                   "axis":{"title":null,"values":[{"year":2022,"month":12,"date":7,"utc":true},{"year":2022,"month":12,"date":14,"utc":true},{"year":2022,"month":12,"date":21,"utc":true},{"year":2022,"month":12,"date":28,"utc":true},{"year":2023,"month":1,"date":4,"utc":true},{"year":2023,"month":1,"date":11,"utc":true},{"year":2023,"month":1,"date":18,"utc":true},{"year":2023,"month":1,"date":25,"utc":true},{"year":2023,"month":2,"date":1,"utc":true},{"year":2023,"month":2,"date":8,"utc":true},{"year":2023,"month":2,"date":15,"utc":true}],"labelExpr":"utcFormat(datum.value, '%-d-%b-%y')","labelOverlap":false,"labelAngle":-45,"grid":false,"domain":true,"domainColor":"#d0d0d0","ticks":true,"tickColor":"#d0d0d0","tickSize":5,"labelColor":"#595959","labelFontSize":12,"labelPadding":3}},
              "x2":{"field":"to"},
              "y":{"field":"v","type":"quantitative","title":null,"scale":{"domain":[1.5,2.7],"zero":false,"nice":false},
                   "axis":{"title":null,"values":[1.5,1.7,1.9,2.1,2.3,2.5,2.7],"format":".2f","grid":true,"gridColor":"#d9d9d9","domain":false,"ticks":false,"labelPadding":14.7,"labelColor":"#595959","labelFontSize":11.5}}}},
            {"data":{"name":"pb"},
             "mark":{"type":"line","color":"#b31b1b","strokeWidth":2},
             "encoding":{
              "x":{"field":"date","type":"temporal","title":null,"timeUnit":"utcyearmonthdate","bandPosition":0.5,"scale":{"type":"utc","domain":[{"year":2022,"month":12,"date":7,"utc":true},{"year":2023,"month":2,"date":21,"utc":true}]},
                   "axis":{"title":null,"values":[{"year":2022,"month":12,"date":7,"utc":true},{"year":2022,"month":12,"date":14,"utc":true},{"year":2022,"month":12,"date":21,"utc":true},{"year":2022,"month":12,"date":28,"utc":true},{"year":2023,"month":1,"date":4,"utc":true},{"year":2023,"month":1,"date":11,"utc":true},{"year":2023,"month":1,"date":18,"utc":true},{"year":2023,"month":1,"date":25,"utc":true},{"year":2023,"month":2,"date":1,"utc":true},{"year":2023,"month":2,"date":8,"utc":true},{"year":2023,"month":2,"date":15,"utc":true}],"labelExpr":"utcFormat(datum.value, '%-d-%b-%y')","labelOverlap":false,"labelAngle":-45,"grid":false,"domain":true,"domainColor":"#d0d0d0","ticks":true,"tickColor":"#d0d0d0","tickSize":5,"labelColor":"#595959","labelFontSize":12,"labelPadding":3}},
              "y":{"field":"v","type":"quantitative","title":null,"scale":{"domain":[1.5,2.7],"zero":false,"nice":false},
                   "axis":{"title":null,"values":[1.5,1.7,1.9,2.1,2.3,2.5,2.7],"format":".2f","grid":true,"gridColor":"#d9d9d9","domain":false,"ticks":false,"labelPadding":14.7,"labelColor":"#595959","labelFontSize":11.5}}}},
            {"data":{"name":"pbBands"},"transform":[{"filter":"datum.band !== 'Mean'"}],
             "mark":{"type":"text","align":"left","baseline":"alphabetic","dy":-3.5,"fontSize":10,"color":"#111111"},
             "encoding":{"text":{"field":"label"},
              "x":{"field":"at","type":"temporal","title":null,"scale":{"type":"utc","domain":[{"year":2022,"month":12,"date":7,"utc":true},{"year":2023,"month":2,"date":21,"utc":true}]},
                   "axis":{"title":null,"values":[{"year":2022,"month":12,"date":7,"utc":true},{"year":2022,"month":12,"date":14,"utc":true},{"year":2022,"month":12,"date":21,"utc":true},{"year":2022,"month":12,"date":28,"utc":true},{"year":2023,"month":1,"date":4,"utc":true},{"year":2023,"month":1,"date":11,"utc":true},{"year":2023,"month":1,"date":18,"utc":true},{"year":2023,"month":1,"date":25,"utc":true},{"year":2023,"month":2,"date":1,"utc":true},{"year":2023,"month":2,"date":8,"utc":true},{"year":2023,"month":2,"date":15,"utc":true}],"labelExpr":"utcFormat(datum.value, '%-d-%b-%y')","labelOverlap":false,"labelAngle":-45,"grid":false,"domain":true,"domainColor":"#d0d0d0","ticks":true,"tickColor":"#d0d0d0","tickSize":5,"labelColor":"#595959","labelFontSize":12,"labelPadding":3}},
              "y":{"field":"v","type":"quantitative","title":null,"scale":{"domain":[1.5,2.7],"zero":false,"nice":false},
                   "axis":{"title":null,"values":[1.5,1.7,1.9,2.1,2.3,2.5,2.7],"format":".2f","grid":true,"gridColor":"#d9d9d9","domain":false,"ticks":false,"labelPadding":14.7,"labelColor":"#595959","labelFontSize":11.5}}}},
            {"data":{"name":"pbBands"},"transform":[{"filter":"datum.band === 'Mean'"}],
             "mark":{"type":"text","align":"left","baseline":"alphabetic","dy":-4,"fontSize":15,"fontWeight":"bold","color":"#111111"},
             "encoding":{"text":{"field":"label"},
              "x":{"field":"at","type":"temporal","title":null,"scale":{"type":"utc","domain":[{"year":2022,"month":12,"date":7,"utc":true},{"year":2023,"month":2,"date":21,"utc":true}]},
                   "axis":{"title":null,"values":[{"year":2022,"month":12,"date":7,"utc":true},{"year":2022,"month":12,"date":14,"utc":true},{"year":2022,"month":12,"date":21,"utc":true},{"year":2022,"month":12,"date":28,"utc":true},{"year":2023,"month":1,"date":4,"utc":true},{"year":2023,"month":1,"date":11,"utc":true},{"year":2023,"month":1,"date":18,"utc":true},{"year":2023,"month":1,"date":25,"utc":true},{"year":2023,"month":2,"date":1,"utc":true},{"year":2023,"month":2,"date":8,"utc":true},{"year":2023,"month":2,"date":15,"utc":true}],"labelExpr":"utcFormat(datum.value, '%-d-%b-%y')","labelOverlap":false,"labelAngle":-45,"grid":false,"domain":true,"domainColor":"#d0d0d0","ticks":true,"tickColor":"#d0d0d0","tickSize":5,"labelColor":"#595959","labelFontSize":12,"labelPadding":3}},
              "y":{"field":"v","type":"quantitative","title":null,"scale":{"domain":[1.5,2.7],"zero":false,"nice":false},
                   "axis":{"title":null,"values":[1.5,1.7,1.9,2.1,2.3,2.5,2.7],"format":".2f","grid":true,"gridColor":"#d9d9d9","domain":false,"ticks":false,"labelPadding":14.7,"labelColor":"#595959","labelFontSize":11.5}}}},
            {"data":{"name":"pbNow"},
             "mark":{"type":"text","align":"right","baseline":"middle","fontSize":15,"fontWeight":"bold","color":"#c00000"},
             "encoding":{"text":{"field":"label"},
              "x":{"field":"at","type":"temporal","title":null,"scale":{"type":"utc","domain":[{"year":2022,"month":12,"date":7,"utc":true},{"year":2023,"month":2,"date":21,"utc":true}]},
                   "axis":{"title":null,"values":[{"year":2022,"month":12,"date":7,"utc":true},{"year":2022,"month":12,"date":14,"utc":true},{"year":2022,"month":12,"date":21,"utc":true},{"year":2022,"month":12,"date":28,"utc":true},{"year":2023,"month":1,"date":4,"utc":true},{"year":2023,"month":1,"date":11,"utc":true},{"year":2023,"month":1,"date":18,"utc":true},{"year":2023,"month":1,"date":25,"utc":true},{"year":2023,"month":2,"date":1,"utc":true},{"year":2023,"month":2,"date":8,"utc":true},{"year":2023,"month":2,"date":15,"utc":true}],"labelExpr":"utcFormat(datum.value, '%-d-%b-%y')","labelOverlap":false,"labelAngle":-45,"grid":false,"domain":true,"domainColor":"#d0d0d0","ticks":true,"tickColor":"#d0d0d0","tickSize":5,"labelColor":"#595959","labelFontSize":12,"labelPadding":3}},
              "y":{"field":"v","type":"quantitative","title":null,"scale":{"domain":[1.5,2.7],"zero":false,"nice":false},
                   "axis":{"title":null,"values":[1.5,1.7,1.9,2.1,2.3,2.5,2.7],"format":".2f","grid":true,"gridColor":"#d9d9d9","domain":false,"ticks":false,"labelPadding":14.7,"labelColor":"#595959","labelFontSize":11.5}}}}
          ]
        }
      ]
    }
  ]
}
